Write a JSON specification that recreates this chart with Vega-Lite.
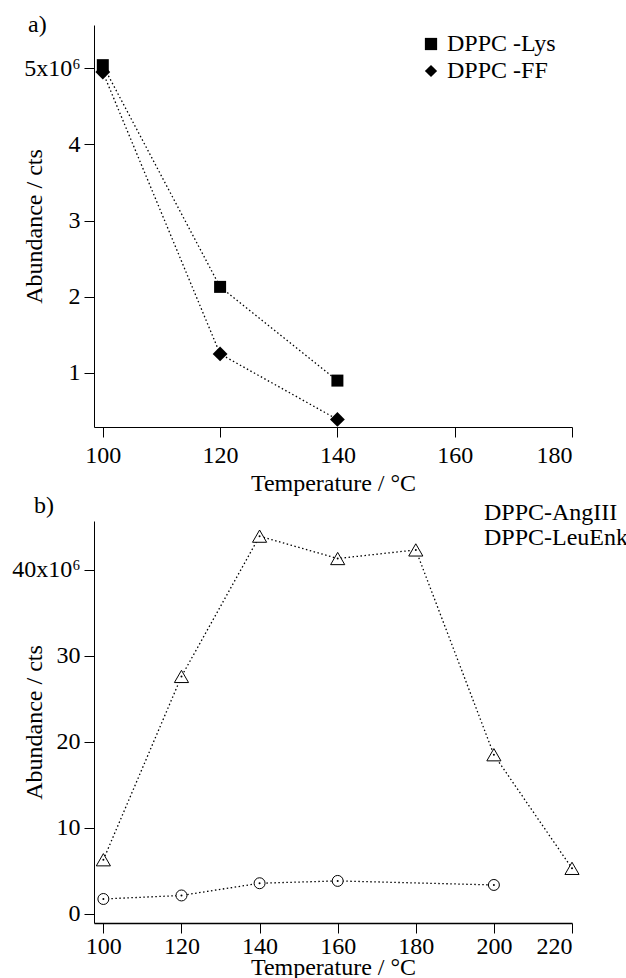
{
  "$schema": "https://vega.github.io/schema/vega-lite/v6.json",
  "autosize": {"type": "pad"},
  "padding": {"left": 11, "top": 13, "right": 0, "bottom": 0},
  "background": "white",
  "bounds": "flush",
  "spacing": 94,
  "resolve": {"scale": {"shape": "independent", "x": "independent", "y": "independent"}, "legend": {"shape": "independent"}},
  "config": {
    "font": "Liberation Serif",
    "view": {"stroke": null},
    "axis": {
      "labelFont": "Liberation Serif", "titleFont": "Liberation Serif",
      "labelFontSize": 24, "titleFontSize": 24, "titleFontWeight": "normal",
      "labelColor": "black", "titleColor": "black",
      "domainColor": "black", "tickColor": "black",
      "grid": false, "tickSize": 10, "domainWidth": 1, "tickWidth": 1
    },
    "legend": {
      "labelFont": "Liberation Serif", "labelFontSize": 24, "labelColor": "black",
      "symbolStrokeColor": "black", "symbolStrokeWidth": 1, "padding": 0, "labelLimit": 400
    },
    "title": {"font": "Liberation Serif", "fontSize": 24, "fontWeight": "normal", "color": "black"}
  },
  "vconcat": [
    {
      "width": 478,
      "height": 402,
      "title": {"text": "a)", "anchor": "start", "frame": "group", "dx": -66, "baseline": "alphabetic", "offset": -24, "dy": 7},
      "data": {"values": [
        {"series": "DPPC -Lys", "temp": 100, "abundance": 5.04},
        {"series": "DPPC -Lys", "temp": 120, "abundance": 2.13},
        {"series": "DPPC -Lys", "temp": 140, "abundance": 0.9},
        {"series": "DPPC -FF", "temp": 100, "abundance": 4.95},
        {"series": "DPPC -FF", "temp": 120, "abundance": 1.25},
        {"series": "DPPC -FF", "temp": 140, "abundance": 0.39}
      ]},
      "encoding": {
        "x": {"field": "temp", "type": "quantitative",
          "scale": {"domain": [98.5, 180], "nice": false, "zero": false},
          "axis": {"values": [100, 120, 140, 160, 180], "title": "Temperature / °C", "labelPadding": 6, "titleY": 44}},
        "y": {"field": "abundance", "type": "quantitative",
          "scale": {"domain": [0.291, 5.567], "nice": false, "zero": false},
          "axis": {"values": [1, 2, 3, 4, 5], "title": "Abundance / cts", "labelExpr": "datum.value == 5 ? '5x10⁶' : datum.label", "titleX": -53, "titleBaseline": "alphabetic", "labelPadding": 4}}
      },
      "layer": [
        {"mark": {"type": "line", "color": "black", "strokeDash": [1.5, 2.5], "strokeWidth": 1.3},
         "encoding": {"detail": {"field": "series"}}},
        {"transform": [{"filter": "datum.series == 'DPPC -Lys'"}],
         "mark": {"type": "point", "filled": true, "color": "black", "opacity": 1, "size": 144},
         "encoding": {
           "shape": {"field": "series", "type": "nominal",
             "scale": {"domain": ["DPPC -Lys", "DPPC -FF"], "range": ["square", "diamond"]},
             "legend": {"title": null, "orient": "none", "legendX": 325, "legendY": 7, "labelOffset": 4, "rowPadding": 3, "symbolSize": 150, "symbolFillColor": "black"}}
         }},
        {"transform": [{"filter": "datum.series == 'DPPC -FF'"}],
         "mark": {"type": "point", "filled": true, "color": "black", "opacity": 1, "size": 220},
         "encoding": {
           "shape": {"field": "series", "type": "nominal",
             "scale": {"domain": ["DPPC -Lys", "DPPC -FF"], "range": ["square", "diamond"]}}
         }}
      ]
    },
    {
      "width": 478,
      "height": 402,
      "title": {"text": "b)", "anchor": "start", "frame": "group", "dx": -60, "baseline": "alphabetic", "offset": -25, "dy": 11},
      "data": {"values": [
        {"series": "DPPC-AngIII", "temp": 100, "abundance": 1.74},
        {"series": "DPPC-AngIII", "temp": 120, "abundance": 2.15},
        {"series": "DPPC-AngIII", "temp": 140, "abundance": 3.57},
        {"series": "DPPC-AngIII", "temp": 160, "abundance": 3.84},
        {"series": "DPPC-AngIII", "temp": 200, "abundance": 3.37},
        {"series": "DPPC-LeuEnk", "temp": 100, "abundance": 6.3},
        {"series": "DPPC-LeuEnk", "temp": 120, "abundance": 27.6},
        {"series": "DPPC-LeuEnk", "temp": 140, "abundance": 43.9},
        {"series": "DPPC-LeuEnk", "temp": 160, "abundance": 41.3},
        {"series": "DPPC-LeuEnk", "temp": 180, "abundance": 42.3},
        {"series": "DPPC-LeuEnk", "temp": 200, "abundance": 18.5},
        {"series": "DPPC-LeuEnk", "temp": 220, "abundance": 5.3}
      ]},
      "encoding": {
        "x": {"field": "temp", "type": "quantitative",
          "scale": {"domain": [97.6, 220], "nice": false, "zero": false},
          "axis": {"values": [100, 120, 140, 160, 180, 200, 220], "title": "Temperature / °C", "labelPadding": 1, "titleY": 32, "domainWidth": 1.5}},
        "y": {"field": "abundance", "type": "quantitative",
          "scale": {"domain": [-1.05, 45.66], "nice": false, "zero": false},
          "axis": {"values": [0, 10, 20, 30, 40], "title": "Abundance / cts", "labelExpr": "datum.value == 40 ? '40x10⁶' : datum.label", "titleX": -53, "titleBaseline": "alphabetic", "labelPadding": 4}}
      },
      "layer": [
        {"mark": {"type": "line", "color": "black", "strokeDash": [1.5, 2.5], "strokeWidth": 1.3},
         "encoding": {"detail": {"field": "series"}}},
        {"transform": [{"filter": "datum.series == 'DPPC-AngIII'"}],
         "mark": {"type": "point", "filled": true, "color": "white", "stroke": "black", "strokeWidth": 1, "opacity": 1, "size": 120},
         "encoding": {
           "shape": {"field": "series", "type": "nominal",
             "scale": {"domain": ["DPPC-AngIII", "DPPC-LeuEnk"], "range": ["circle", "triangle-up"]},
             "legend": {"title": null, "orient": "none", "legendX": 350, "legendY": -20, "labelOffset": 16, "rowPadding": 1, "symbolSize": 140, "symbolFillColor": "white", "symbolStrokeColor": "black", "symbolStrokeWidth": 1,
               "encode": {"symbols": {"update": {"size": {"value": 140}, "stroke": {"value": "black"}, "fill": {"value": "white"}, "strokeWidth": {"value": 1}, "opacity": {"value": 1}}}}}}
         }},
        {"transform": [{"filter": "datum.series == 'DPPC-LeuEnk'"}],
         "mark": {"type": "point", "filled": true, "color": "white", "stroke": "black", "strokeWidth": 1, "opacity": 1, "size": 200},
         "encoding": {
           "shape": {"field": "series", "type": "nominal",
             "scale": {"domain": ["DPPC-AngIII", "DPPC-LeuEnk"], "range": ["circle", "triangle-up"]}}
         }},
        {"mark": {"type": "point", "filled": true, "color": "black", "size": 4, "opacity": 1}}
      ]
    }
  ]
}
